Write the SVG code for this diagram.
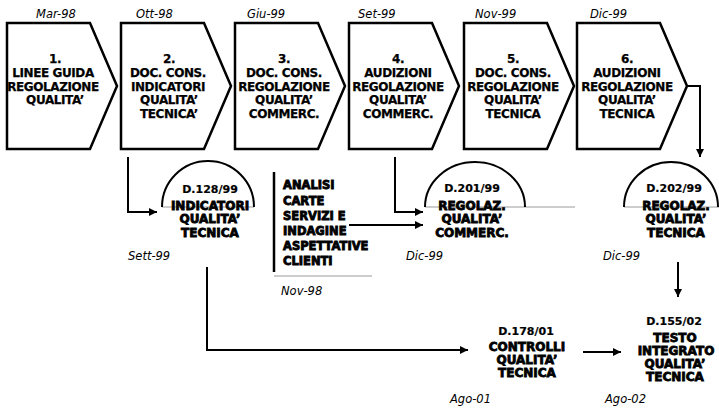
<svg xmlns="http://www.w3.org/2000/svg" width="719" height="411" viewBox="0 0 719 411">
<defs>
<style>
.chev{fill:#fff;stroke:#000;stroke-width:2.5;stroke-linejoin:miter}
.ct{font-family:"DejaVu Sans",Verdana,sans-serif;font-weight:bold;font-size:12px;text-anchor:middle;fill:#000;stroke:#000;stroke-width:0.25;letter-spacing:-0.4px}
.dn{font-family:"DejaVu Sans",Verdana,sans-serif;font-weight:bold;font-size:11px;text-anchor:middle;fill:#000;stroke:#000;stroke-width:0.2}
.dt{font-family:"DejaVu Sans",Verdana,sans-serif;font-style:italic;font-size:11.5px;fill:#000}
.hv{font-family:"DejaVu Sans",Verdana,sans-serif;font-weight:bold;font-size:12px;text-anchor:middle;fill:#000;stroke:#000;stroke-width:0.8}
.bx{font-family:"DejaVu Sans",Verdana,sans-serif;font-weight:bold;font-size:11.5px;fill:#000;stroke:#000;stroke-width:0.85}
.arc{fill:none;stroke:#000;stroke-width:2}
.gl{stroke:#9a9a9a;stroke-width:1;fill:none}
.cn{fill:none;stroke:#000;stroke-width:2}
</style>
<marker id="ah" markerWidth="10" markerHeight="10" refX="8" refY="4" orient="auto" markerUnits="userSpaceOnUse">
<path d="M0,0 L8,4 L0,8 Z" fill="#000"/>
</marker>
</defs>

<g id="step1">
<text class="dt" x="36" y="18">Mar-98</text>
<path class="chev" d="M7,23 H90 L117,86 L90,149 H7 Z"/>
<text class="ct" x="55" y="63">1.</text>
<text class="ct" x="53" y="77">LINEE GUIDA</text>
<text class="ct" x="53" y="91">REGOLAZIONE</text>
<text class="ct" x="55" y="104">QUALITA’</text>
</g>
<g id="step2">
<text class="dt" x="136" y="18">Ott-98</text>
<path class="chev" d="M121,23 H204 L231,86 L204,149 H121 Z"/>
<text class="ct" x="169" y="63">2.</text>
<text class="ct" x="168" y="77">DOC. CONS.</text>
<text class="ct" x="168" y="91">INDICATORI</text>
<text class="ct" x="169" y="104">QUALITA’</text>
<text class="ct" x="169" y="118">TECNICA’</text>
</g>
<g id="step3">
<text class="dt" x="247" y="18">Giu-99</text>
<path class="chev" d="M235,23 H318 L345,86 L318,149 H235 Z"/>
<text class="ct" x="284" y="63">3.</text>
<text class="ct" x="284" y="77">DOC. CONS.</text>
<text class="ct" x="284" y="91">REGOLAZIONE</text>
<text class="ct" x="284" y="104">QUALITA’</text>
<text class="ct" x="284" y="118">COMMERC.</text>
</g>
<g id="step4">
<text class="dt" x="358" y="18">Set-99</text>
<path class="chev" d="M349,23 H432 L459,86 L432,149 H349 Z"/>
<text class="ct" x="398" y="63">4.</text>
<text class="ct" x="398" y="77">AUDIZIONI</text>
<text class="ct" x="398" y="91">REGOLAZIONE</text>
<text class="ct" x="398" y="104">QUALITA’</text>
<text class="ct" x="398" y="118">COMMERC.</text>
</g>
<g id="step5">
<text class="dt" x="475" y="18">Nov-99</text>
<path class="chev" d="M464,23 H547 L574,86 L547,149 H464 Z"/>
<text class="ct" x="513" y="63">5.</text>
<text class="ct" x="513" y="77">DOC. CONS.</text>
<text class="ct" x="513" y="91">REGOLAZIONE</text>
<text class="ct" x="513" y="104">QUALITA’</text>
<text class="ct" x="513" y="118">TECNICA</text>
</g>
<g id="step6">
<text class="dt" x="590" y="18">Dic-99</text>
<path class="chev" d="M577,23 H660 L687,86 L660,149 H577 Z"/>
<text class="ct" x="627" y="63">6.</text>
<text class="ct" x="627" y="77">AUDIZIONI</text>
<text class="ct" x="627" y="91">REGOLAZIONE</text>
<text class="ct" x="627" y="104">QUALITA’</text>
<text class="ct" x="627" y="118">TECNICA</text>
</g>

<g id="d128">
<line class="gl" x1="162" y1="207" x2="254" y2="207"/>
<path class="arc" d="M162,207 A46,46 0 0 1 254,207"/>
<text class="dn" x="210" y="193">D.128/99</text>
<text class="hv" x="210" y="210">INDICATORI</text>
<text class="hv" x="210" y="223">QUALITA’</text>
<text class="hv" x="210" y="237">TECNICA</text>
<text class="dt" x="128" y="260">Sett-99</text>
</g>

<g id="analisi">
<line x1="274" y1="172" x2="274" y2="272" stroke="#000" stroke-width="2.5"/>
<line class="gl" x1="274" y1="276" x2="372" y2="276"/>
<text class="bx" x="283" y="189">ANALISI</text>
<text class="bx" x="283" y="205">CARTE</text>
<text class="bx" x="283" y="220">SERVIZI E</text>
<text class="bx" x="283" y="235">INDAGINE</text>
<text class="bx" x="283" y="250">ASPETTATIVE</text>
<text class="bx" x="283" y="265">CLIENTI</text>
<text class="dt" x="281" y="295">Nov-98</text>
</g>

<g id="d201">
<line class="gl" x1="425" y1="207" x2="575" y2="207"/>
<path class="arc" d="M425,207 A50,45 0 0 1 525,207"/>
<text class="dn" x="472" y="192">D.201/99</text>
<text class="hv" x="472" y="210">REGOLAZ.</text>
<text class="hv" x="472" y="223">QUALITA’</text>
<text class="hv" x="472" y="237">COMMERC.</text>
<text class="dt" x="406" y="260">Dic-99</text>
</g>

<g id="d202">
<line class="gl" x1="624" y1="207" x2="719" y2="207"/>
<path class="arc" d="M624,207 A47,45 0 0 1 718,207"/>
<text class="dn" x="674" y="192">D.202/99</text>
<text class="hv" x="676" y="210">REGOLAZ.</text>
<text class="hv" x="676" y="223">QUALITA’</text>
<text class="hv" x="676" y="237">TECNICA</text>
<text class="dt" x="603" y="260">Dic-99</text>
</g>

<g id="d178">
<text class="dn" x="526" y="335">D.178/01</text>
<text class="hv" x="527" y="351">CONTROLLI</text>
<text class="hv" x="527" y="364">QUALITA’</text>
<text class="hv" x="527" y="377">TECNICA</text>
<text class="dt" x="450" y="403">Ago-01</text>
</g>

<g id="d155">
<text class="dn" x="674" y="325">D.155/02</text>
<text class="hv" x="675" y="342">TESTO</text>
<text class="hv" x="676" y="355">INTEGRATO</text>
<text class="hv" x="675" y="368">QUALITA’</text>
<text class="hv" x="675" y="381">TECNICA</text>
<text class="dt" x="605" y="403">Ago-02</text>
</g>

<g id="connectors">
<path class="cn" d="M128,157 V212 H157" marker-end="url(#ah)"/>
<path class="cn" d="M395,157 V212 H423" marker-end="url(#ah)"/>
<path class="cn" d="M349,225 H423" marker-end="url(#ah)"/>
<path class="cn" d="M207,267 V350 H468" marker-end="url(#ah)"/>
<path class="cn" d="M687,86 H700 V157" marker-end="url(#ah)"/>
<path class="cn" d="M678,262 V297" marker-end="url(#ah)"/>
<path class="cn" d="M583,352 H621" marker-end="url(#ah)"/>
</g>
</svg>
